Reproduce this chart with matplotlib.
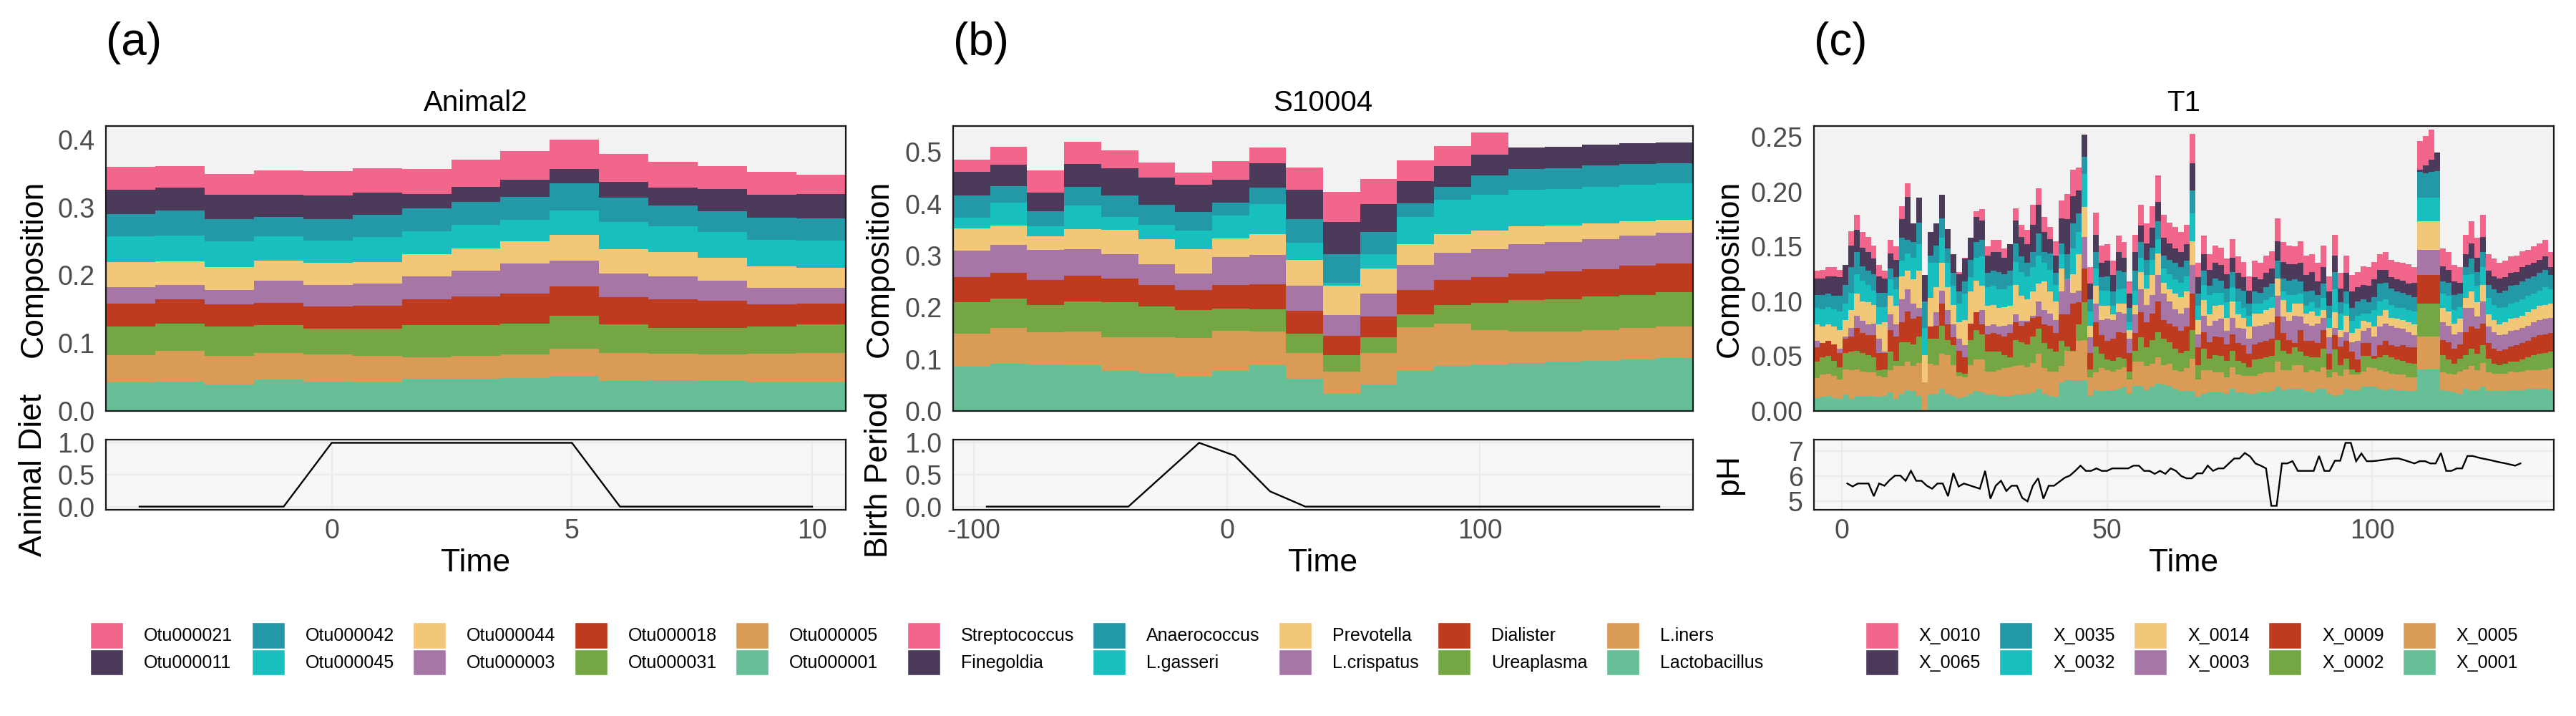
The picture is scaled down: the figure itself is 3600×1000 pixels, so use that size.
import matplotlib
matplotlib.use('Agg')
import matplotlib.pyplot as plt
from matplotlib.patches import Patch
from matplotlib.ticker import FormatStrFormatter
import numpy as np

plt.rcParams['font.family'] = ['Liberation Sans', 'DejaVu Sans']
plt.rcParams['axes.unicode_minus'] = False

# stack colours, bottom layer first
stack_colors = ['#67BF98', '#D99B55', '#74A744', '#BF3B20', '#A677A6',
                '#F2C777', '#18BFBF', '#2398A6', '#4B3A5A', '#F2668B']

# ---------------- panel (a): Animal2 ----------------
animal_names = ['Otu000001', 'Otu000005', 'Otu000031', 'Otu000018', 'Otu000003',
                'Otu000044', 'Otu000045', 'Otu000042', 'Otu000011', 'Otu000021']
otu000001 = [.042, .043, .039, .046, .043, .042, .047, .048, .049, .052, .044, .045, .044, .042, .042]
otu000005 = [.040, .046, .042, .040, .040, .039, .032, .033, .034, .040, .041, .039, .039, .042, .044]
otu000031 = [.042, .040, .044, .041, .038, .040, .048, .046, .046, .048, .043, .038, .039, .040, .042]
otu000018 = [.034, .036, .032, .032, .033, .034, .038, .042, .044, .044, .040, .043, .040, .033, .030]
otu000003 = [.025, .021, .021, .033, .032, .033, .033, .038, .044, .038, .035, .033, .030, .024, .024]
otu000044 = [.036, .035, .034, .030, .032, .032, .033, .033, .033, .038, .036, .036, .034, .032, .029]
otu000045 = [.038, .038, .038, .035, .033, .036, .034, .034, .032, .036, .040, .038, .038, .039, .040]
otu000042 = [.033, .036, .033, .029, .032, .033, .034, .034, .034, .040, .035, .031, .030, .033, .033]
otu000011 = [.036, .034, .036, .033, .035, .033, .021, .022, .025, .021, .024, .026, .033, .034, .036]
otu000021 = [.034, .032, .030, .036, .036, .036, .037, .040, .042, .043, .041, .038, .034, .033, .028]
animal_time = [-4, -3, -2, -1, 0, 1, 2, 3, 4, 5, 6, 7, 8, 9, 10]
animal_diet = [0, 0, 0, 0, 1, 1, 1, 1, 1, 1, 0, 0, 0, 0, 0]

# ---------------- panel (b): S10004 ----------------
vag_names = ['Lactobacillus', 'L.iners', 'Ureaplasma', 'Dialister', 'L.crispatus',
             'Prevotella', 'L.gasseri', 'Anaerococcus', 'Finegoldia', 'Streptococcus']
lactobacillus = [.086, .091, .090, .088, .078, .073, .067, .078, .088, .062, .033, .051, .077, .087, .090, .093, .095, .097, .099, .102]
l_iners = [.063, .069, .062, .065, .065, .069, .074, .077, .065, .050, .043, .061, .084, .081, .066, .060, .058, .059, .061, .061]
ureaplasma = [.061, .057, .052, .058, .067, .060, .054, .043, .043, .037, .032, .030, .026, .037, .053, .061, .063, .065, .064, .066]
dialister = [.049, .050, .049, .050, .045, .041, .038, .045, .049, .045, .037, .040, .046, .048, .050, .052, .053, .053, .056, .056]
l_crispatus = [.050, .054, .058, .052, .047, .040, .033, .054, .056, .048, .040, .045, .049, .053, .054, .056, .057, .058, .058, .059]
prevotella = [.044, .037, .026, .038, .048, .048, .047, .036, .041, .050, .057, .048, .040, .035, .035, .034, .032, .030, .028, .025]
l_gasseri = [.020, .044, .020, .046, .025, .028, .035, .044, .057, .033, .005, .028, .053, .066, .070, .071, .071, .071, .071, .070]
anaerococcus = [.043, .032, .029, .035, .041, .039, .036, .025, .032, .046, .056, .042, .026, .026, .036, .040, .040, .041, .040, .039]
finegoldia = [.045, .041, .036, .045, .052, .052, .052, .044, .047, .056, .062, .054, .043, .040, .041, .041, .041, .040, .040, .040]
streptococcus = [.024, .035, .042, .042, .035, .029, .024, .036, .030, .043, .058, .049, .039, .038, .042, 0, 0, 0, 0, 0]
birth_time = [-95, -81, -67, -53, -39, -25, -11, 3, 17, 31, 45, 59, 73, 87, 101, 115, 129, 143, 157, 171]
birth_period = [0, 0, 0, 0, 0, 0.5, 1.0, 0.8, 0.24, 0, 0, 0, 0, 0, 0, 0, 0, 0, 0, 0]

# ---------------- panel (c): T1 (values in thousandths) ----------------
t1_names = ['X_0001', 'X_0005', 'X_0002', 'X_0009', 'X_0003',
            'X_0014', 'X_0032', 'X_0035', 'X_0065', 'X_0010']
x_0001 = [12, 13, 14, 12, 11, 15, 11, 14, 14, 14, 14, 13, 14, 17, 11, 16, 19, 18, 14, 0,
          15, 16, 20, 16, 14, 12, 13, 16, 18, 17, 15, 15, 14, 14, 14, 15, 15, 16, 17, 20,
          16, 14, 13, 26, 28, 28, 28, 28, 14, 19, 18, 19, 19, 20, 22, 16, 23, 23, 19, 22,
          25, 24, 23, 20, 18, 18, 18, 13, 16, 17, 17, 17, 16, 20, 17, 17, 16, 16, 17, 17,
          18, 22, 19, 20, 20, 20, 18, 17, 20, 20, 16, 14, 15, 20, 19, 19, 22, 22, 22, 20,
          19, 20, 19, 19, 18, 18, 38, 38, 38, 38, 19, 18, 17, 16, 20, 19, 19, 22, 18, 18,
          18, 18, 19, 19, 19, 20, 20, 20, 20, 19]
x_0005 = [18, 20, 20, 20, 18, 23, 26, 24, 22, 21, 21, 19, 17, 20, 30, 25, 26, 23, 30, 26,
          28, 26, 32, 35, 28, 20, 18, 26, 29, 30, 21, 21, 23, 25, 26, 26, 27, 24, 27, 32,
          23, 22, 23, 15, 27, 26, 36, 37, 17, 16, 21, 18, 17, 18, 18, 13, 22, 22, 22, 21,
          24, 18, 20, 17, 18, 21, 30, 16, 21, 20, 18, 18, 15, 20, 16, 15, 16, 16, 17, 18,
          17, 23, 18, 17, 22, 22, 17, 20, 16, 20, 15, 21, 17, 18, 14, 14, 14, 18, 17, 17,
          17, 14, 14, 14, 13, 13, 30, 30, 30, 30, 16, 16, 16, 20, 18, 22, 18, 22, 17, 16,
          16, 16, 17, 16, 17, 17, 17, 17, 18, 20]
x_0002 = [15, 16, 16, 14, 11, 15, 17, 17, 17, 16, 14, 5, 7, 17, 5, 22, 18, 20, 24, 0,
          23, 24, 26, 14, 18, 3, 3, 23, 27, 23, 18, 18, 17, 12, 9, 24, 21, 21, 24, 23,
          23, 21, 18, 23, 4, 1, 15, 34, 7, 24, 13, 10, 10, 11, 8, 7, 10, 22, 17, 22,
          23, 24, 20, 20, 17, 16, 26, 13, 20, 11, 16, 15, 15, 15, 13, 12, 8, 15, 14, 14,
          15, 20, 18, 15, 16, 12, 15, 12, 13, 17, 7, 21, 10, 10, 5, 2, 14, 10, 9, 12,
          15, 15, 14, 13, 13, 12, 30, 30, 30, 30, 16, 13, 10, 12, 13, 16, 15, 16, 13, 9,
          8, 9, 9, 10, 11, 12, 14, 15, 15, 15]
x_0009 = [13, 13, 14, 15, 13, 13, 14, 21, 18, 18, 20, 16, 15, 20, 22, 18, 28, 23, 18, 0,
          11, 12, 20, 14, 7, 20, 15, 15, 16, 9, 16, 17, 16, 17, 22, 16, 15, 20, 17, 11,
          17, 21, 17, 24, 29, 43, 20, 31, 15, 22, 17, 17, 20, 23, 23, 17, 16, 23, 23, 24,
          28, 17, 17, 20, 20, 22, 33, 16, 15, 15, 17, 17, 15, 15, 16, 16, 12, 14, 15, 15,
          16, 21, 16, 13, 4, 20, 14, 15, 13, 17, 14, 13, 17, 16, 16, 12, 12, 12, 2, 11,
          13, 11, 12, 14, 14, 15, 26, 26, 26, 26, 14, 16, 14, 13, 21, 20, 23, 20, 14, 14,
          13, 13, 14, 15, 15, 15, 16, 17, 17, 17]
x_0003 = [6, 0, 0, 0, 4, 2, 8, 11, 11, 10, 11, 13, 1, 14, 11, 21, 20, 14, 8, 0,
          0, 12, 12, 13, 12, 11, 11, 0, 0, 13, 8, 8, 7, 10, 8, 7, 4, 1, 2, 14,
          13, 11, 12, 21, 32, 10, 11, 29, 14, 17, 14, 20, 17, 18, 18, 13, 17, 21, 16, 17,
          24, 24, 20, 16, 16, 17, 26, 12, 15, 15, 14, 17, 12, 15, 14, 15, 14, 16, 15, 15,
          15, 19, 15, 17, 25, 12, 16, 14, 18, 11, 15, 7, 8, 8, 9, 17, 11, 14, 18, 17,
          16, 18, 17, 15, 14, 11, 23, 23, 23, 23, 16, 15, 13, 11, 22, 17, 11, 20, 15, 15,
          14, 14, 14, 14, 14, 14, 14, 14, 14, 14]
x_0014 = [15, 15, 15, 16, 17, 15, 16, 20, 18, 20, 17, 13, 27, 17, 17, 21, 17, 22, 34, 25,
          26, 23, 25, 21, 18, 15, 23, 29, 29, 22, 18, 18, 17, 17, 17, 27, 23, 20, 22, 16,
          26, 20, 17, 21, 0, 17, 33, 27, 11, 16, 13, 12, 5, 8, 9, 8, 9, 16, 15, 18,
          20, 10, 11, 14, 15, 15, 22, 13, 14, 10, 14, 13, 12, 15, 12, 10, 11, 12, 11, 13,
          13, 16, 15, 8, 11, 12, 9, 13, 7, 7, 9, 14, 7, 15, 8, 11, 9, 5, 9, 10,
          12, 7, 8, 8, 9, 10, 26, 26, 26, 26, 13, 13, 10, 12, 9, 15, 13, 15, 11, 11,
          10, 11, 11, 11, 11, 12, 12, 13, 13, 13]
x_0032 = [15, 16, 16, 16, 17, 15, 16, 18, 19, 16, 13, 16, 14, 15, 15, 14, 16, 20, 24, 25,
          32, 22, 23, 22, 17, 17, 24, 13, 21, 27, 17, 17, 17, 16, 18, 21, 22, 21, 22, 26,
          17, 20, 15, 13, 1, 23, 20, 30, 13, 16, 14, 14, 8, 13, 14, 7, 13, 13, 12, 14,
          13, 13, 14, 13, 13, 14, 25, 13, 14, 18, 12, 11, 14, 13, 12, 9, 10, 9, 9, 9,
          10, 0, 8, 16, 8, 9, 7, 8, 7, 11, 9, 21, 15, 11, 11, 12, 7, 8, 15, 13,
          10, 12, 10, 11, 11, 12, 22, 22, 22, 22, 13, 14, 12, 11, 21, 16, 15, 16, 15, 14,
          15, 14, 14, 14, 15, 15, 14, 14, 16, 13]
x_0035 = [12, 13, 12, 12, 14, 17, 23, 20, 13, 13, 15, 13, 13, 10, 11, 21, 12, 14, 20, 24,
          7, 16, 18, 13, 12, 11, 11, 16, 14, 15, 13, 14, 16, 14, 14, 17, 14, 12, 14, 20,
          10, 15, 11, 10, 22, 23, 17, 16, 11, 15, 12, 13, 13, 17, 15, 13, 18, 14, 14, 11,
          16, 12, 13, 15, 14, 14, 21, 11, 13, 8, 13, 11, 13, 14, 12, 16, 11, 11, 10, 12,
          12, 16, 12, 13, 14, 11, 13, 11, 12, 13, 11, 16, 10, 11, 12, 13, 13, 10, 12, 16,
          15, 15, 15, 14, 14, 13, 23, 22, 23, 24, 11, 12, 14, 12, 7, 14, 13, 14, 12, 14,
          14, 15, 16, 16, 16, 16, 16, 16, 16, 13]
x_0065 = [15, 15, 16, 18, 17, 18, 20, 20, 17, 17, 14, 15, 13, 14, 16, 17, 39, 17, 23, 24,
          21, 20, 21, 18, 17, 16, 21, 20, 23, 18, 16, 17, 18, 15, 24, 21, 18, 17, 25, 26,
          18, 13, 16, 23, 32, 25, 21, 20, 14, 16, 13, 14, 15, 17, 13, 13, 17, 15, 15, 18,
          18, 16, 15, 13, 14, 15, 25, 15, 15, 15, 14, 14, 13, 13, 14, 12, 12, 13, 12, 13,
          14, 18, 15, 15, 14, 17, 15, 17, 12, 15, 13, 15, 13, 17, 15, 13, 13, 15, 16, 13,
          12, 10, 11, 11, 10, 13, 2, 7, 11, 17, 14, 12, 12, 10, 12, 14, 13, 14, 13, 12,
          13, 12, 12, 12, 13, 12, 12, 12, 12, 7]
x_0010 = [7, 8, 8, 8, 7, 0, 13, 14, 14, 14, 12, 10, 7, 12, 12, 12, 13, 0, 0, 0,
          0, 0, 0, 0, 0, 2, 1, 0, 5, 10, 8, 11, 11, 8, 0, 11, 11, 13, 18, 15,
          14, 11, 13, 16, 23, 24, 21, 0, 15, 20, 16, 15, 13, 15, 14, 11, 16, 19, 18, 20,
          24, 21, 19, 20, 18, 18, 27, 13, 17, 14, 16, 16, 14, 17, 15, 14, 13, 15, 15, 16,
          16, 21, 18, 17, 16, 20, 18, 16, 17, 20, 14, 19, 14, 16, 15, 14, 17, 17, 16, 14,
          16, 16, 16, 16, 18, 14, 26, 27, 28, 0, 16, 16, 15, 14, 18, 20, 18, 20, 15, 16,
          14, 15, 15, 15, 15, 14, 15, 15, 15, 14]
ph = [5.70, 5.58, 5.70, 5.70, 5.70, 5.19, 5.70, 5.61, 5.84, 6.02,
      6.02, 5.81, 6.21, 5.81, 5.81, 5.61, 5.49, 5.70, 5.70, 5.19,
      6.12, 5.58, 5.70, 5.63, 5.56, 5.49, 6.21, 5.09, 5.61, 5.81,
      5.40, 5.61, 5.61, 5.12, 4.98, 5.61, 5.91, 5.09, 5.61, 5.61,
      5.77, 5.93, 6.02, 6.21, 6.42, 6.21, 6.21, 6.31, 6.21, 6.21,
      6.31, 6.31, 6.31, 6.31, 6.42, 6.42, 6.21, 6.21, 6.09, 6.21,
      6.09, 6.31, 6.21, 6.00, 5.91, 5.91, 6.11, 6.11, 6.42, 6.21,
      6.31, 6.31, 6.51, 6.71, 6.71, 6.93, 6.79, 6.51, 6.42, 6.31,
      4.80, 4.80, 6.51, 6.51, 6.60, 6.21, 6.21, 6.21, 6.21, 6.81,
      6.21, 6.21, 6.62, 6.62, 7.34, 7.34, 6.60, 6.91, 6.60, 6.60,
      6.62, 6.65, 6.68, 6.71, 6.71, 6.65, 6.58, 6.51, 6.60, 6.60,
      6.51, 6.51, 6.93, 6.21, 6.21, 6.31, 6.31, 6.81, 6.81, 6.75,
      6.70, 6.66, 6.61, 6.56, 6.52, 6.47, 6.42, 6.51]
ph_time = list(range(1, len(ph) + 1))

FW, FH = 3600., 1000.
fig = plt.figure(figsize=(36, 10), dpi=100, facecolor='white')


def draw_panel(x0, letter, title, layers, names, edges, ylim, yticks, yfmt,
               cov_t, cov_v, cov_label, cov_xlim, cov_xticks, cov_ylim, cov_yticks,
               cov_fmt, ylab_off, leg_x):
    width = 1034 / FW
    ax = fig.add_axes([x0 / FW, 1 - 574 / FH, width, 398 / FH])
    axc = fig.add_axes([x0 / FW, 1 - 712 / FH, width, 98 / FH])

    # stacked composition, drawn as steps
    base = np.zeros(len(edges) - 1)
    for vals, col in zip(layers, stack_colors):
        top = base + np.asarray(vals, dtype=float)
        ax.stairs(top, edges, baseline=base, fill=True, color=col, linewidth=0)
        base = top
    ax.set_facecolor('#F2F2F2')
    ax.set_xlim(edges[0], edges[-1])
    ax.set_ylim(*ylim)
    ax.set_xticks([])
    ax.set_yticks(yticks)
    ax.yaxis.set_major_formatter(FormatStrFormatter(yfmt))
    ax.tick_params(axis='y', length=0, pad=11, labelsize=27, labelcolor='#4D4D4D')
    for s in ax.spines.values():
        s.set_linewidth(1.6)
        s.set_color('#1A1A1A')

    # covariate below
    axc.set_facecolor('#F7F7F7')
    axc.plot(cov_t, cov_v, color='black', lw=1.7, solid_joinstyle='miter')
    axc.set_xlim(*cov_xlim)
    axc.set_ylim(*cov_ylim)
    axc.set_xticks(cov_xticks)
    axc.set_yticks(cov_yticks)
    axc.yaxis.set_major_formatter(FormatStrFormatter(cov_fmt))
    axc.grid(True, color='#EBEBEB', lw=1.6)
    axc.set_axisbelow(True)
    axc.tick_params(length=0, labelsize=27, labelcolor='#4D4D4D')
    axc.tick_params(axis='y', pad=11)
    axc.tick_params(axis='x', pad=9)
    for s in axc.spines.values():
        s.set_linewidth(1.6)
        s.set_color('#1A1A1A')

    cx = (x0 + 517) / FW
    fig.text(x0 / FW, 1 - 60 / FH, letter, fontsize=46, ha='left', va='center')
    fig.text(cx, 1 - 144 / FH, title, fontsize=29, ha='center', va='center')
    fig.text((x0 - ylab_off) / FW, 1 - 375 / FH, 'Composition', fontsize=32,
             rotation=90, ha='center', va='center')
    fig.text((x0 - ylab_off) / FW, 1 - 663 / FH, cov_label, fontsize=32,
             rotation=90, ha='center', va='center')
    fig.text(cx, 1 - 787 / FH, 'Time', fontsize=32, ha='center', va='center')

    handles = [Patch(facecolor=c, edgecolor='white', linewidth=1) for c in stack_colors]
    fig.legend(handles[::-1], names[::-1], ncol=5, loc='center',
               bbox_to_anchor=(leg_x / FW, 1 - 906 / FH), frameon=False,
               fontsize=18, handlelength=1.84, handleheight=1.88,
               handletextpad=1.16, columnspacing=1.05, labelspacing=0.04,
               borderaxespad=0, borderpad=0)


draw_panel(148, '(a)', 'Animal2',
           [otu000001, otu000005, otu000031, otu000018, otu000003,
            otu000044, otu000045, otu000042, otu000011, otu000021],
           animal_names, np.arange(len(animal_time) + 1) + animal_time[0] - 0.5,
           (0, 0.42), [0, 0.1, 0.2, 0.3, 0.4], '%.1f',
           animal_time, animal_diet, 'Animal Diet', (-4.7, 10.7), [0, 5, 10],
           (-0.05, 1.05), [0, 0.5, 1.0], '%.1f', 101, 677)

draw_panel(1332, '(b)', 'S10004',
           [lactobacillus, l_iners, ureaplasma, dialister, l_crispatus,
            prevotella, l_gasseri, anaerococcus, finegoldia, streptococcus],
           vag_names, np.arange(len(birth_time) + 1),
           (0, 0.55), [0, 0.1, 0.2, 0.3, 0.4, 0.5], '%.1f',
           birth_time, birth_period, 'Birth Period', (-108.3, 184.3), [-100, 0, 100],
           (-0.05, 1.05), [0, 0.5, 1.0], '%.1f', 103, 1866)

t1_layers = [np.array(v) / 1000.0 for v in
             [x_0001, x_0005, x_0002, x_0009, x_0003, x_0014, x_0032, x_0035, x_0065, x_0010]]
draw_panel(2535, '(c)', 'T1', t1_layers, t1_names, np.arange(len(x_0001) + 1),
           (0, 0.26), [0, 0.05, 0.10, 0.15, 0.20, 0.25], '%.2f',
           ph_time, ph, 'pH', (-5.3, 134.3), [0, 50, 100],
           (4.64, 7.47), [5, 6, 7], '%d', 118, 3063)

fig.savefig('out.png', dpi=100, facecolor='white')
